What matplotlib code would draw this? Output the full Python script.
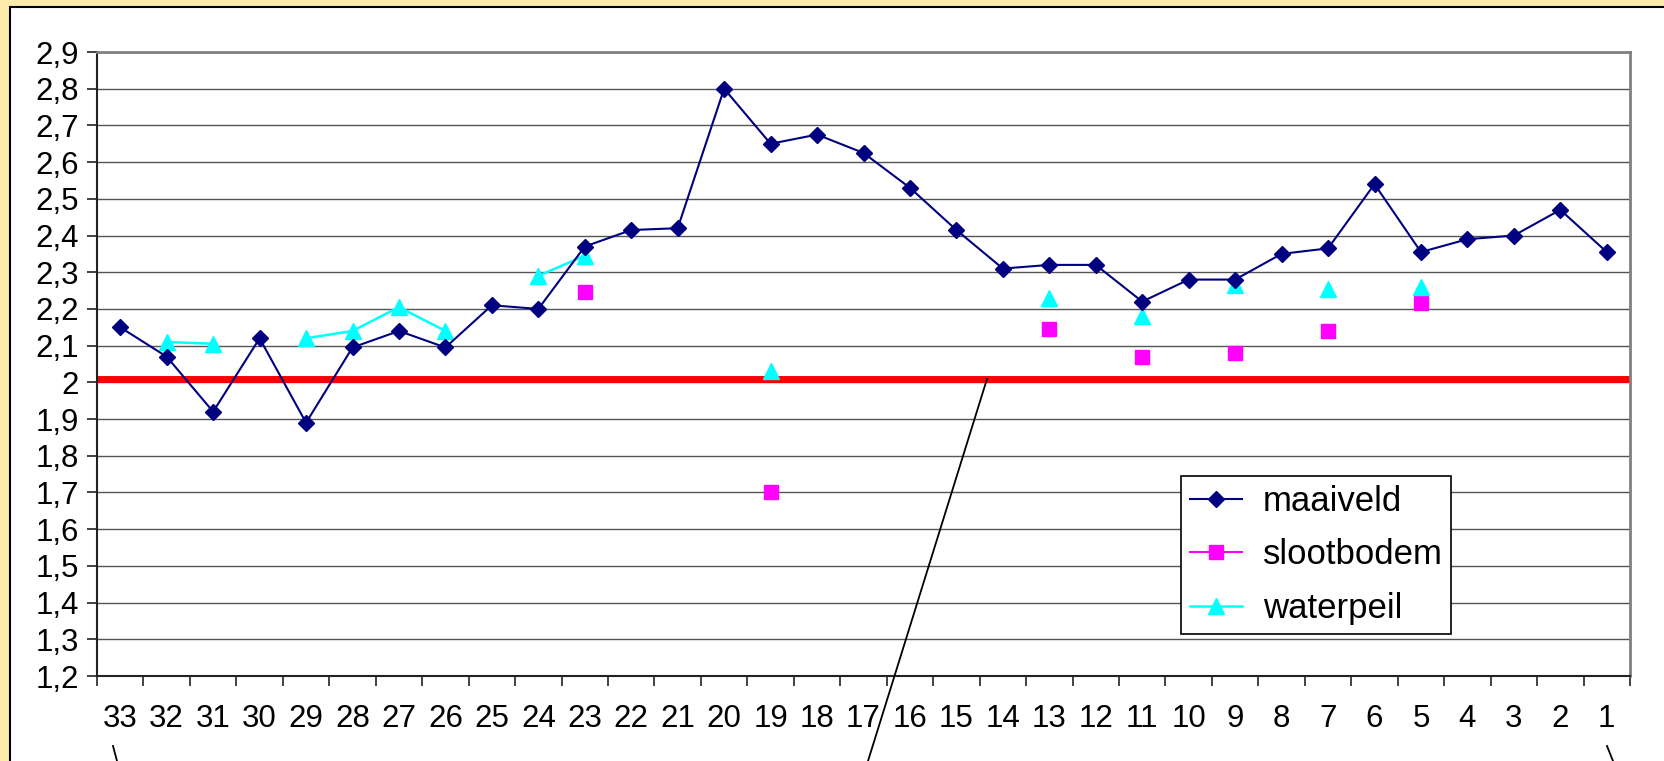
import numpy as np
import matplotlib
matplotlib.use("Agg")
import matplotlib.pyplot as plt
from matplotlib.lines import Line2D
from matplotlib.patches import Rectangle

plt.rcParams['font.family'] = ['Liberation Sans', 'DejaVu Sans']

# peilvakken, van links naar rechts
labels = [str(i) for i in range(33, 0, -1)]

nan = np.nan
maaiveld = [2.15, 2.07, 1.92, 2.12, 1.89, 2.095, 2.14, 2.095, 2.21, 2.20, 2.37,
            2.415, 2.42, 2.80, 2.65, 2.675, 2.625, 2.53, 2.415, 2.31, 2.32, 2.32,
            2.22, 2.28, 2.28, 2.35, 2.365, 2.54, 2.355, 2.39, 2.40, 2.47, 2.355]
slootbodem = [nan, nan, nan, nan, nan, nan, nan, nan, nan, nan, 2.245,
              nan, nan, nan, 1.70, nan, nan, nan, nan, nan, 2.145, nan,
              2.07, nan, 2.08, nan, 2.14, nan, 2.215, nan, nan, nan, nan]
waterpeil = [nan, 2.11, 2.105, nan, 2.12, 2.14, 2.205, 2.14, nan, 2.29, 2.345,
             nan, nan, nan, 2.03, nan, nan, nan, nan, nan, 2.23, nan,
             2.18, nan, 2.265, nan, 2.255, nan, 2.26, nan, nan, nan, nan]
grens = 2.01

W, H = 1664, 761
fig = plt.figure(figsize=(W / 100, H / 100), dpi=100)
fig.patch.set_facecolor('#fcebaa')

# witte achtergrond van de dia
bg = Rectangle((10 / W, -0.05), 1.05, 1.05 - 7 / H, transform=fig.transFigure,
               facecolor='white', edgecolor='black', linewidth=1.5, zorder=-10)
fig.patches.append(bg)

ax = fig.add_axes([97 / W, 1 - 676 / H, (1630 - 97) / W, (676 - 52) / H])
ax.set_facecolor('white')
x = np.arange(len(labels))

ax.plot(x, maaiveld, color='#000080', marker='D', markersize=8.5, linewidth=1.5,
        label='maaiveld', zorder=4)
ax.plot(x, slootbodem, color='#ff00ff', marker='s', markersize=9.5, linewidth=1.5,
        linestyle='-', label='slootbodem', zorder=3)
ax.plot(x, waterpeil, color='#00ffff', marker='^', markersize=11.5, linewidth=1.8,
        label='waterpeil', zorder=3)
ax.axhline(grens, color='#ff0000', linewidth=5, zorder=2)

ax.set_xlim(-0.5, len(labels) - 0.5)
ax.set_ylim(1.2, 2.9)
ax.set_yticks(np.arange(1.2, 2.91, 0.1))
ax.set_yticklabels([('%.1f' % v).replace('.', ',').replace(',0', '') for v in np.arange(1.2, 2.91, 0.1)])
ax.set_xticks(x)
ax.set_xticklabels(labels)
ax.set_xticks(np.arange(-0.5, len(labels), 1), minor=True)
ax.tick_params(axis='x', which='major', length=0, pad=20, labelsize=22.5)
ax.tick_params(axis='x', which='minor', length=7, width=1.2, color='#222222')
ax.tick_params(axis='y', length=7, width=1.2, pad=6, labelsize=22.5, color='#222222')

ax.yaxis.grid(True, color='#555555', linewidth=1.0)
ax.set_axisbelow(True)
for s in ['left', 'bottom']:
    ax.spines[s].set_color('#222222')
    ax.spines[s].set_linewidth(1.5)
for s in ['top', 'right']:
    ax.spines[s].set_color('#808080')
    ax.spines[s].set_linewidth(2)

leg = ax.legend(loc='lower left', bbox_to_anchor=((1181 - 97) / 1533, (676 - 634) / 624),
                borderaxespad=0, fontsize=25, fancybox=False, framealpha=1,
                edgecolor='black', handlelength=1.5, labelspacing=0.6,
                borderpad=0.25, handletextpad=0.6)
leg.get_frame().set_linewidth(1.2)

# verwijslijnen
for (x0, y0), (x1, y1) in [((987, 379), (868, 761)), ((113, 746), (117, 761)),
                           ((1607, 746), (1613, 761))]:
    fig.add_artist(Line2D([x0 / W, x1 / W], [1 - y0 / H, 1 - y1 / H],
                          transform=fig.transFigure, color='black', linewidth=1.3))

fig.savefig('out.png', dpi=100)
